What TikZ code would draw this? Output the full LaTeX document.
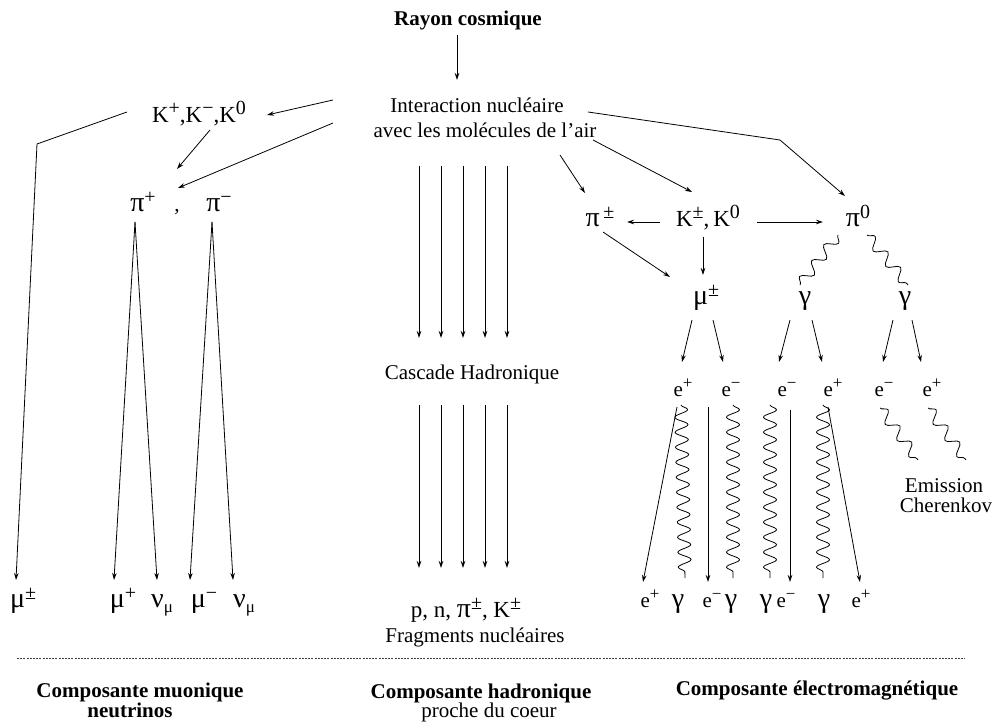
\documentclass[tikz,border=0pt]{standalone}
\usepackage{fontspec}
\setmainfont{Liberation Serif}
\usetikzlibrary{arrows.meta,decorations.pathmorphing}
\newcommand{\mygk}[1]{{\fontsize{28}{28}\selectfont #1}}
\newcommand{\mysup}[1]{\raisebox{8pt}{\fontsize{17}{17}\selectfont #1}}
\newcommand{\mybsup}[1]{\raisebox{8pt}{\fontsize{20}{20}\selectfont #1}}
\newcommand{\mysub}[1]{\raisebox{-5pt}{\fontsize{17}{17}\selectfont #1}}
\begin{document}
\begin{tikzpicture}[x=1pt,y=-1pt,
  lab/.style={anchor=base,inner sep=0pt,font=\fontsize{21}{24}\selectfont},
  klab/.style={anchor=base,inner sep=0pt,font=\fontsize{23}{26}\selectfont},
  blab/.style={anchor=base,inner sep=0pt,font=\fontsize{21}{24}\selectfont\bfseries},
  arr/.style={-{Stealth[length=7pt,width=4.5pt]},line width=0.8pt},
  wav/.style={decorate,decoration={snake,segment length=15pt,amplitude=6.5pt},line width=0.8pt},
  swav/.style={decorate,decoration={snake,segment length=20pt,amplitude=5.5pt},line width=0.8pt},
  sep/.style={line width=0.8pt,black!75,dash pattern=on 2pt off 1.2pt}]
\useasboundingbox (0,0) rectangle (994,727);

% ---- top
\node[blab] (ray) at (468,26) {Rayon cosmique};
\node[lab] (int1) at (477,113) {Interaction nucléaire};
\node[lab] (int2) at (485,138) {avec les molécules de l'air};

% ---- muonic column
\node[klab] (Kl) at (199,123) {K\mybsup{+},K\mybsup{−},K\mybsup{0}};
\node[lab] (pip) at (143,212) {\mygk{π}\mybsup{+}};
\node[lab] (cm) at (177,212) {,};
\node[lab] (pim) at (219,212) {\mygk{π}\mybsup{−}};
\node[lab] (mupmL) at (23,607) {\mygk{μ}\mybsup{±}};
\node[lab] (mupL) at (123,607) {\mygk{μ}\mybsup{+}};
\node[lab] (nu1) at (162,607) {\mygk{ν}\mysub{μ}};
\node[lab] (mumL) at (204,607) {\mygk{μ}\mybsup{−}};
\node[lab] (nu2) at (244,607) {\mygk{ν}\mysub{μ}};
\coordinate (cK) at (37,144);

% ---- hadronic column
\node[lab] (casc) at (472,380) {Cascade Hadronique};
\node[lab] (hadr) at (466,617) {\fontsize{23}{24}\selectfont p, n, \mygk{π}\mybsup{±}, K\mybsup{±}};
\node[lab] (frag) at (475,642) {Fragments nucléaires};

% ---- electromagnetic column
\node[lab] (pipm) at (600,227) {\mygk{π}\,\mybsup{±}};
\node[klab] (Kr) at (708,227) {K\mybsup{±},\,K\mybsup{0}};
\node[lab] (pi0) at (858,227) {\mygk{π}\mybsup{0}};
\node[lab] (mu) at (706,305) {\mygk{μ}\mybsup{±}};
\node[lab] (g1) at (805,305) {\mygk{γ}};
\node[lab] (g2) at (905,305) {\mygk{γ}};
\node[lab] (e1) at (683,397) {e\mysup{+}};
\node[lab] (e2) at (731,397) {e\mysup{−}};
\node[lab] (e3) at (787,397) {e\mysup{−}};
\node[lab] (e4) at (833,397) {e\mysup{+}};
\node[lab] (e5) at (884,397) {e\mysup{−}};
\node[lab] (e6) at (932,397) {e\mysup{+}};
\node[lab] (em) at (944,492) {Emission};
\node[lab] (cher) at (946,512) {Cherenkov};
\node[lab] (b1) at (650,607) {e\mysup{+}};
\node[lab] (b2) at (678,607) {\mygk{γ}};
\node[lab] (b3) at (712,607) {e\mysup{−}};
\node[lab] (b4) at (731,607) {\mygk{γ}};
\node[lab] (b5) at (766,607) {\mygk{γ}};
\node[lab] (b6) at (786,607) {e\mysup{−}};
\node[lab] (b7) at (824,607) {\mygk{γ}};
\node[lab] (b8) at (861,607) {e\mysup{+}};
\coordinate (cP) at (780,140);

% ---- bottom
\coordinate (sepL) at (17,658);
\coordinate (sepR) at (965,658);
\node[blab] (cmu) at (140,697) {Composante muonique};
\node[blab] (neut) at (130,717) {neutrinos};
\node[blab] (chad) at (481,698) {Composante hadronique};
\node[lab] (proche) at (489,717) {proche du coeur};
\node[blab] (cem) at (817,695) {Composante électromagnétique};

% ================= connectors
\draw[arr] ([shift={(-11,9)}]ray.base) -- ([shift={(-20,-33)}]int1.base);

% muonic
\draw[arr] ([shift={(-144,-13)}]int1.base) -- ([shift={(68,-8)}]Kl.base);
\draw[arr] ([shift={(-152,-15)}]int2.base) -- ([shift={(35,-24)}]pip.base);
\draw[arr] ([shift={(11,7)}]Kl.base) -- ([shift={(34,-43)}]pip.base);
\draw[arr] ([shift={(-72,-11)}]Kl.base) -- (cK) -- ([shift={(-7,-27)}]mupmL.base);
\draw[arr] ([shift={(-8,10)}]pip.base) -- ([shift={(-9,-27)}]mupL.base);
\draw[arr] ([shift={(-8,10)}]pip.base) -- ([shift={(-5,-27)}]nu1.base);
\draw[arr] ([shift={(-7,10)}]pim.base) -- ([shift={(-14,-27)}]mumL.base);
\draw[arr] ([shift={(-7,10)}]pim.base) -- ([shift={(-11,-27)}]nu2.base);

% hadronic
\foreach \xx in {419,441,463,485,507}{
  \draw[arr] ([shift={(\xx-485,28)}]int2.base) -- ([shift={(\xx-472,-42)}]casc.base);
  \draw[arr] ([shift={(\xx-472,25)}]casc.base) -- ([shift={(\xx-466,-49)}]hadr.base);
}

% electromagnetic
\draw[arr] ([shift={(75,17)}]int2.base) -- ([shift={(-15,-34)}]pipm.base);
\draw[arr] ([shift={(108,2)}]int2.base) -- ([shift={(-16,-35)}]Kr.base);
\draw[arr] ([shift={(111,-1)}]int1.base) -- (cP) -- ([shift={(-13,-31)}]pi0.base);
\draw[arr] ([shift={(-48,-5)}]Kr.base) -- ([shift={(27,-5)}]pipm.base);
\draw[arr] ([shift={(49,-5)}]Kr.base) -- ([shift={(-35,-5)}]pi0.base);
\draw[arr] ([shift={(3,5)}]pipm.base) -- ([shift={(-36,-28)}]mu.base);
\draw[arr] ([shift={(-5,10)}]Kr.base) -- ([shift={(-3,-30)}]mu.base);
\draw[swav] ([shift={(-20,8)}]pi0.base) -- ([shift={(-5,-20)}]g1.base);
\draw[swav] ([shift={(9,8)}]pi0.base) -- ([shift={(3,-20)}]g2.base);

\draw[arr] ([shift={(-14,15)}]mu.base) -- ([shift={(-1,-35)}]e1.base);
\draw[arr] ([shift={(7,15)}]mu.base) -- ([shift={(-8,-35)}]e2.base);
\draw[arr] ([shift={(-15,15)}]g1.base) -- ([shift={(-8,-35)}]e3.base);
\draw[arr] ([shift={(7,15)}]g1.base) -- ([shift={(-11,-35)}]e4.base);
\draw[arr] ([shift={(-12,15)}]g2.base) -- ([shift={(-1,-35)}]e5.base);
\draw[arr] ([shift={(7,15)}]g2.base) -- ([shift={(-11,-35)}]e6.base);

\draw[arr] ([shift={(-6,10)}]e1.base) -- ([shift={(-7,-25)}]b1.base);
\draw[wav] ([shift={(-2,8)}]e1.base) -- ([shift={(7,-29)}]b2.base);
\draw[arr] ([shift={(-23,10)}]e2.base) -- ([shift={(-4,-25)}]b3.base);
\draw[wav] ([shift={(2,8)}]e2.base) -- ([shift={(2,-29)}]b4.base);
\draw[wav] ([shift={(-17,8)}]e3.base) -- ([shift={(4,-29)}]b5.base);
\draw[arr] ([shift={(3,13)}]e3.base) -- ([shift={(4,-25)}]b6.base);
\draw[wav] ([shift={(-10,8)}]e4.base) -- ([shift={(-1,-29)}]b7.base);
\draw[arr] ([shift={(-5,10)}]e4.base) -- ([shift={(-1,-25)}]b8.base);
\draw[swav] ([shift={(-4,11)}]e5.base) -- ([shift={(-26,-32)}]em.base);
\draw[swav] ([shift={(-4,11)}]e6.base) -- ([shift={(22,-32)}]em.base);

% separator
\draw[sep] (sepL) -- (sepR);
\end{tikzpicture}
\end{document}
